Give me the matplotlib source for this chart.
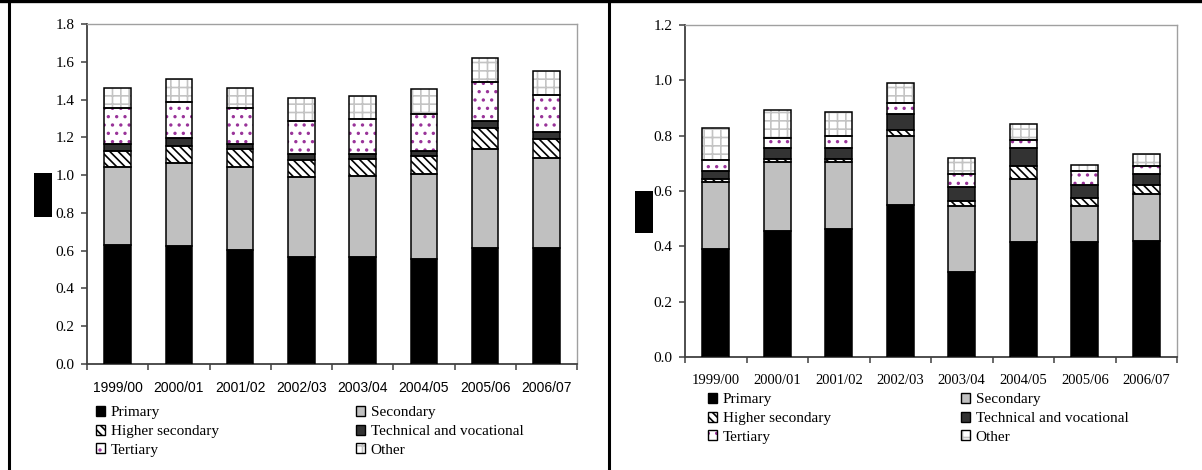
import matplotlib
matplotlib.use("Agg")
import matplotlib.pyplot as plt
import numpy as np
from matplotlib.patches import Patch, Rectangle
from matplotlib.lines import Line2D
from matplotlib.legend_handler import HandlerTuple

years = ["1999/00", "2000/01", "2001/02", "2002/03", "2003/04", "2004/05", "2005/06", "2006/07"]
levels = ["Primary", "Secondary", "Higher secondary", "Technical and vocational", "Tertiary", "Other"]

# Left panel: segment heights per level
left_primary = [0.630, 0.625, 0.604, 0.568, 0.566, 0.558, 0.614, 0.614]
left_secondary = [0.411, 0.439, 0.437, 0.420, 0.431, 0.450, 0.524, 0.477]
left_higher = [0.088, 0.092, 0.096, 0.092, 0.087, 0.093, 0.111, 0.102]
left_technical = [0.036, 0.040, 0.028, 0.032, 0.028, 0.028, 0.039, 0.037]
left_tertiary = [0.189, 0.193, 0.189, 0.176, 0.185, 0.195, 0.203, 0.194]
left_other = [0.109, 0.120, 0.109, 0.120, 0.120, 0.132, 0.131, 0.125]

# Right panel: segment heights per level
right_primary = [0.390, 0.456, 0.462, 0.549, 0.309, 0.414, 0.414, 0.420]
right_secondary = [0.241, 0.248, 0.242, 0.250, 0.236, 0.230, 0.131, 0.169]
right_higher = [0.012, 0.011, 0.011, 0.022, 0.018, 0.048, 0.030, 0.031]
right_technical = [0.031, 0.041, 0.041, 0.057, 0.051, 0.064, 0.045, 0.042]
right_tertiary = [0.039, 0.037, 0.043, 0.039, 0.048, 0.029, 0.054, 0.030]
right_other = [0.113, 0.099, 0.086, 0.072, 0.058, 0.056, 0.020, 0.040]

left_series = [left_primary, left_secondary, left_higher, left_technical, left_tertiary, left_other]
right_series = [right_primary, right_secondary, right_higher, right_technical, right_tertiary, right_other]

# fill colour, hatch pattern, hatch colour for each level
styles = [
    ("black", None, "black"),
    ("#c0c0c0", None, "#c0c0c0"),
    ("white", "\\\\\\\\", "black"),
    ("#333333", None, "#333333"),
    ("white", "..", "#993399"),
    ("white", "++", "#c4c4c4"),
]

plt.rcParams["hatch.linewidth"] = 1.2
SERIF = "Liberation Serif"
SANS = "Liberation Sans"

W, H = 1202, 470
fig = plt.figure(figsize=(W / 100, H / 100), dpi=100)


def px_axes(x0, y0, x1, y1):
    return fig.add_axes([x0 / W, 1 - y1 / H, (x1 - x0) / W, (y1 - y0) / H])


def draw_panel(ax, series, ymax, width, xfont, xsize):
    x = np.arange(len(years))
    bottom = np.zeros(len(years))
    for vals, (fc, hatch, hc) in zip(series, styles):
        vals = np.asarray(vals)
        ax.bar(x, vals, width, bottom=bottom, color=fc, hatch=hatch,
               edgecolor=hc, linewidth=0, zorder=2)
        ax.bar(x, vals, width, bottom=bottom, fill=False,
               edgecolor="black", linewidth=1.1, zorder=3)
        bottom += vals
    ax.set_xlim(-0.5, len(years) - 0.5)
    ax.set_ylim(0, ymax)
    ax.set_yticks(np.arange(0, ymax + 0.001, 0.2))
    ax.set_yticklabels([f"{v:.1f}" for v in np.arange(0, ymax + 0.001, 0.2)],
                       fontfamily=SERIF, fontsize=11)
    ax.set_xticks(x)
    ax.set_xticklabels(years, fontfamily=xfont, fontsize=xsize)
    ax.set_xticks(np.arange(-0.5, len(years)), minor=True)
    ax.tick_params(axis="x", which="major", length=0, pad=12)
    ax.tick_params(axis="x", which="minor", length=4, width=1.1, color="#404040", direction="out")
    ax.tick_params(axis="y", length=4, width=1.1, color="#404040", direction="out", pad=5)
    for s in ("left", "bottom"):
        ax.spines[s].set_color("#404040")
        ax.spines[s].set_linewidth(1.3)
    for s in ("top", "right"):
        ax.spines[s].set_color("#a0a0a0")
        ax.spines[s].set_linewidth(1.0)


def add_legend(x_col1, x_col2, y_top):
    handles = []
    for fc, hatch, hc in styles:
        handles.append((Patch(facecolor=fc, hatch=hatch, edgecolor=hc, linewidth=0),
                        Patch(fill=False, edgecolor="black", linewidth=1.0)))
    cols = [[0, 2, 4], [1, 3, 5]]
    for xc, idx in zip((x_col1, x_col2), cols):
        fig.legend([handles[i] for i in idx], [levels[i] for i in idx],
                   handler_map={tuple: HandlerTuple(ndivide=1, pad=0)},
                   loc="upper left", bbox_to_anchor=(xc / W, 1 - y_top / H),
                   frameon=False, borderpad=0, borderaxespad=0,
                   handlelength=0.62, handleheight=0.62, handletextpad=0.35,
                   labelspacing=0.35, prop={"family": SERIF, "size": 11})


ax1 = px_axes(87, 24, 577, 364)
draw_panel(ax1, left_series, 1.8, 0.43, SANS, 10)
add_legend(96, 356, 406)

ax2 = px_axes(685, 25, 1177, 357)
draw_panel(ax2, right_series, 1.2, 0.44, SERIF, 10.5)
add_legend(708, 961, 393)

# axis title blocks
fig.add_artist(Rectangle((34 / W, 1 - 217 / H), 18 / W, 44 / H, transform=fig.transFigure,
                         facecolor="black", edgecolor="none"))
fig.add_artist(Rectangle((635 / W, 1 - 233 / H), 18 / W, 42 / H, transform=fig.transFigure,
                         facecolor="black", edgecolor="none"))

# panel frame lines
fig.add_artist(Line2D([0, 1], [1 - 1 / H, 1 - 1 / H], transform=fig.transFigure, color="black", linewidth=2.4))
fig.add_artist(Line2D([9 / W, 9 / W], [0, 1], transform=fig.transFigure, color="black", linewidth=2.2))
fig.add_artist(Line2D([609 / W, 609 / W], [0, 1], transform=fig.transFigure, color="black", linewidth=2.2))

fig.savefig("out.png", dpi=100)
